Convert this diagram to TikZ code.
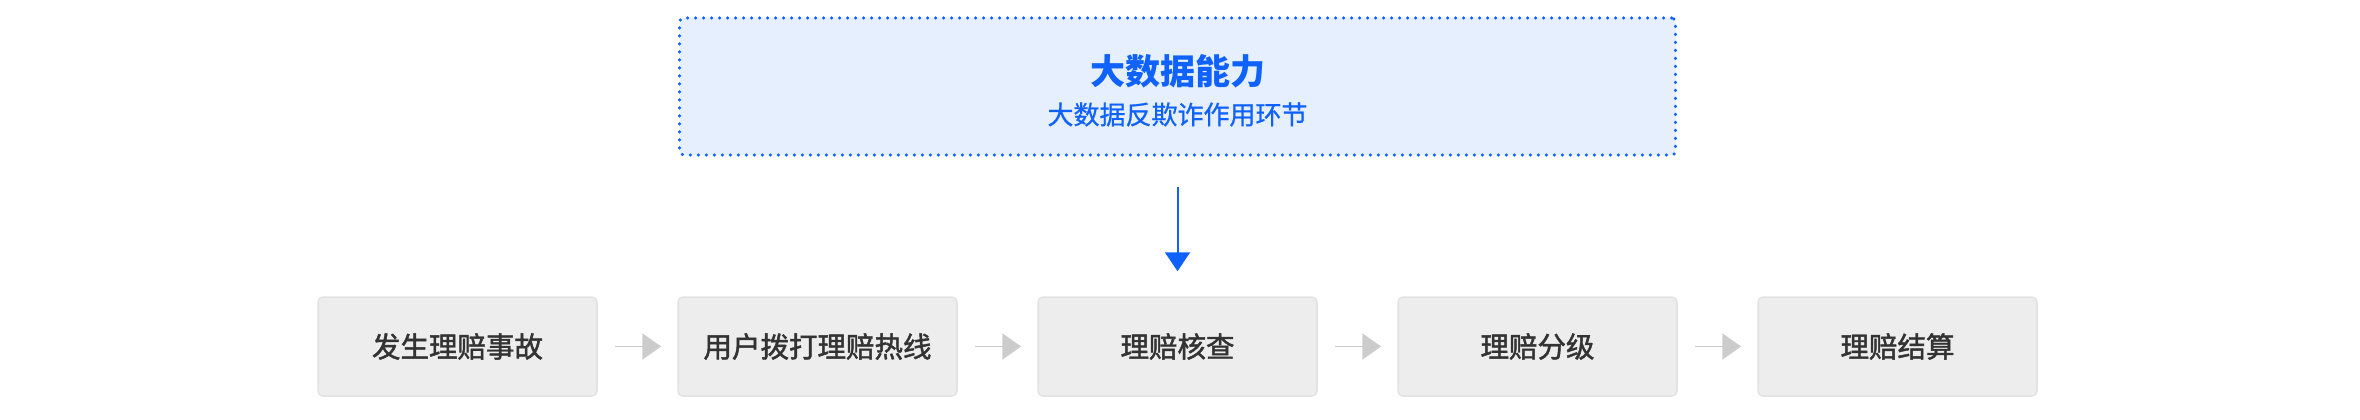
\documentclass[tikz,border=0pt]{standalone}
\usepackage{fontspec}
\newfontfamily\cjk{Noto Sans CJK SC}
\newfontfamily\cjkmed[FakeBold=1.6]{Noto Sans CJK SC}
\newfontfamily\cjksub[FakeBold=0.8]{Noto Sans CJK SC}
\usetikzlibrary{arrows.meta}
\definecolor{mainblue}{RGB}{16,98,255}
\definecolor{bluefill}{RGB}{229,239,253}
\definecolor{boxfill}{RGB}{237,237,237}
\definecolor{boxline}{RGB}{226,226,226}
\definecolor{boxtext}{RGB}{51,51,51}
\definecolor{arrowgray}{RGB}{204,204,204}
\tikzset{
  stepbox/.style={draw=boxline, line width=1.5pt, fill=boxfill, rounded corners=5pt,
    minimum width=279pt, minimum height=99pt, inner sep=0pt,
    font=\cjkmed\fontsize{28.5}{30}\selectfont, text=boxtext},
  bigbox/.style={draw=mainblue, line width=3.5pt, dash pattern=on 0pt off 8pt, line cap=round,
    fill=bluefill, rounded corners=4pt, minimum width=996pt, minimum height=137pt, inner sep=0pt},
  titletext/.style={font=\cjk\bfseries\fontsize{35}{36}\selectfont, text=mainblue, inner sep=0pt},
  subtext/.style={font=\cjksub\fontsize{26}{28}\selectfont, text=mainblue, inner sep=0pt},
  grayarrow/.style={draw=arrowgray, line width=1.6pt, -{Triangle[length=19pt,width=26pt]}, arrowgray},
  bluearrow/.style={draw=mainblue, line width=2pt, -{Triangle[length=19pt,width=25pt]}, mainblue}
}
\begin{document}
\begin{tikzpicture}[x=1pt,y=-1pt]
\useasboundingbox (0,0) rectangle (2360,420);
\node[bigbox] (top) at (1177.5,86.5) {};
\node[titletext] (title) at (1177.5,71) {大数据能力};
\node[subtext] (sub) at (1177.5,114.5) {大数据反欺诈作用环节};
\node[stepbox] (b1) at (457.5,346.5) {发生理赔事故};
\node[stepbox] (b2) at (817.5,346.5) {用户拨打理赔热线};
\node[stepbox] (b3) at (1177.5,346.5) {理赔核查};
\node[stepbox] (b4) at (1537.5,346.5) {理赔分级};
\node[stepbox] (b5) at (1897.5,346.5) {理赔结算};
\draw[grayarrow] ([xshift=17pt]b1.east) -- ([xshift=-16pt]b2.west);
\draw[grayarrow] ([xshift=17pt]b2.east) -- ([xshift=-16pt]b3.west);
\draw[grayarrow] ([xshift=17pt]b3.east) -- ([xshift=-16pt]b4.west);
\draw[grayarrow] ([xshift=17pt]b4.east) -- ([xshift=-16pt]b5.west);
\draw[bluearrow] ([yshift=-30pt]top.south) -- ([yshift=25pt]b3.north);
\end{tikzpicture}
\end{document}
